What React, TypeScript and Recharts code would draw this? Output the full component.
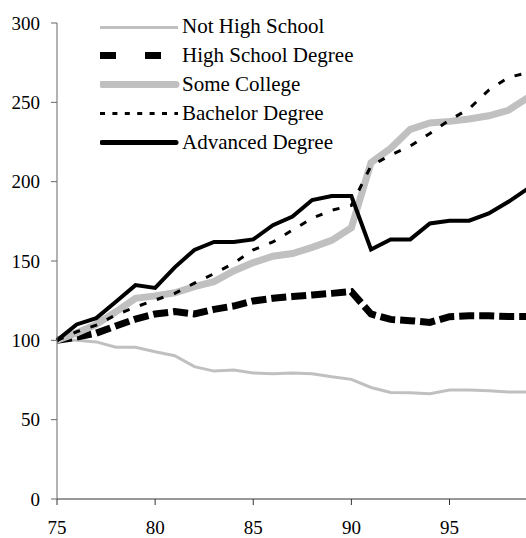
import { LineChart, Line, XAxis, YAxis, Legend } from "recharts";

const YEARS = [75, 76, 77, 78, 79, 80, 81, 82, 83, 84, 85, 86, 87, 88, 89, 90, 91, 92, 93, 94, 95, 96, 97, 98, 99];
const NOT_HS = [100, 100, 99, 95.6, 95.6, 92.8, 90.3, 83.4, 80.6, 81.3, 79.4, 79, 79.4, 79, 77, 75.4, 70.3, 67.1, 66.9, 66.3, 68.7, 68.7, 68.3, 67.5, 67.5];
const HS = [100, 102, 104.5, 109, 113.4, 116.6, 118.1, 116.6, 119.5, 121.6, 124.8, 126.5, 127.6, 128.6, 129.6, 130.7, 116.6, 113.2, 112.4, 111.3, 114.9, 115.5, 115.5, 115, 115];
const SOME_COLLEGE = [100, 104.6, 110, 118, 126.5, 128, 130, 133.8, 137, 143.7, 149, 153, 154.7, 158.6, 163, 171, 212, 221, 233, 237, 238, 239.5, 241.5, 245, 253];
const BACHELOR = [100, 105.4, 109.6, 116, 121, 125.4, 129.6, 136, 142, 148.5, 157, 162, 169.5, 176.9, 182, 185, 210, 216.8, 222.4, 230.4, 238.8, 246, 257.7, 265.7, 268.8];
const ADVANCED = [100, 110, 114, 124.3, 134.8, 133, 146, 157, 162, 162, 163.6, 172.6, 178, 188.4, 191, 191, 157.3, 163.6, 163.6, 173.7, 175.4, 175.4, 180, 187.3, 195.7];
const X_TICKS = [75, 80, 85, 90, 95];
const Y_TICKS = [0, 50, 100, 150, 200, 250, 300];

const data = YEARS.map((year, i) => ({
  year,
  notHs: NOT_HS[i],
  hs: HS[i],
  someCollege: SOME_COLLEGE[i],
  bachelor: BACHELOR[i],
  advanced: ADVANCED[i],
}));

// line styles: chart stroke and the legend sample
const SERIES = [
  { key: "notHs", name: "Not High School", color: "#c0c0c0", width: 3, dash: undefined, legendWidth: 3, legendDash: undefined, cap: "butt" },
  { key: "hs", name: "High School Degree", color: "#000000", width: 7, dash: "15 5", legendWidth: 7, legendDash: "16 29", cap: "butt" },
  { key: "someCollege", name: "Some College", color: "#c0c0c0", width: 7, dash: undefined, legendWidth: 7, legendDash: undefined, cap: "round" },
  { key: "bachelor", name: "Bachelor Degree", color: "#000000", width: 3, dash: "7 11", legendWidth: 3, legendDash: "5 7.4", cap: "butt" },
  { key: "advanced", name: "Advanced Degree", color: "#000000", width: 4, dash: undefined, legendWidth: 5, legendDash: undefined, cap: "round" },
];

const FONT = "Liberation Serif, DejaVu Serif, Times New Roman, Times, serif";

function LegendBox({ payload }: any) {
  const items = SERIES.filter((s) => (payload || []).some((p: any) => p.dataKey === s.key));
  return (
    <div style={{ fontFamily: FONT, fontSize: 21, color: "#000" }}>
      {items.map((s) => (
        <div key={s.key} style={{ display: "flex", alignItems: "center", height: 28.8, lineHeight: 1 }}>
          <svg width={82} height={28.8} style={{ display: "block" }}>
            <line
              x1={s.cap === "round" ? 2 : 0}
              x2={s.cap === "round" ? 76 : 78}
              y1={14.4}
              y2={14.4}
              stroke={s.color}
              strokeWidth={s.legendWidth}
              strokeDasharray={s.legendDash}
              strokeLinecap={s.cap as any}
            />
          </svg>
          <span style={{ whiteSpace: "nowrap" }}>{s.name}</span>
        </div>
      ))}
    </div>
  );
}

export default function App() {
  return (
    <div style={{ width: 526, height: 538, overflow: "hidden", position: "relative", background: "#fff", fontFamily: FONT }}>
      <style>{`body{margin:0} .recharts-text{font-family:${FONT};}`}</style>
      <LineChart width={528} height={538} data={data} margin={{ top: 23, right: 0, bottom: 0, left: 0 }}>
        <XAxis
          dataKey="year"
          type="number"
          domain={[75, 99]}
          ticks={X_TICKS}
          height={39}
          tickSize={6}
          tickMargin={16}
          stroke="#333"
          tick={{ fontSize: 19, fill: "#000", fontFamily: FONT }}
        />
        <YAxis
          domain={[0, 300]}
          ticks={Y_TICKS}
          width={57}
          tickSize={6}
          tickMargin={11}
          stroke="#666"
          tick={{ fontSize: 19, fill: "#000", fontFamily: FONT }}
        />
        <Legend
          layout="vertical"
          align="center"
          verticalAlign="middle"
          wrapperStyle={{ top: 12.6, left: 100, width: 300 }}
          content={<LegendBox />}
        />
        {SERIES.map((s) => (
          <Line
            key={s.key}
            dataKey={s.key}
            name={s.name}
            type="linear"
            stroke={s.color}
            strokeWidth={s.width}
            strokeDasharray={s.dash}
            dot={false}
            activeDot={false}
            isAnimationActive={false}
          />
        ))}
      </LineChart>
    </div>
  );
}
